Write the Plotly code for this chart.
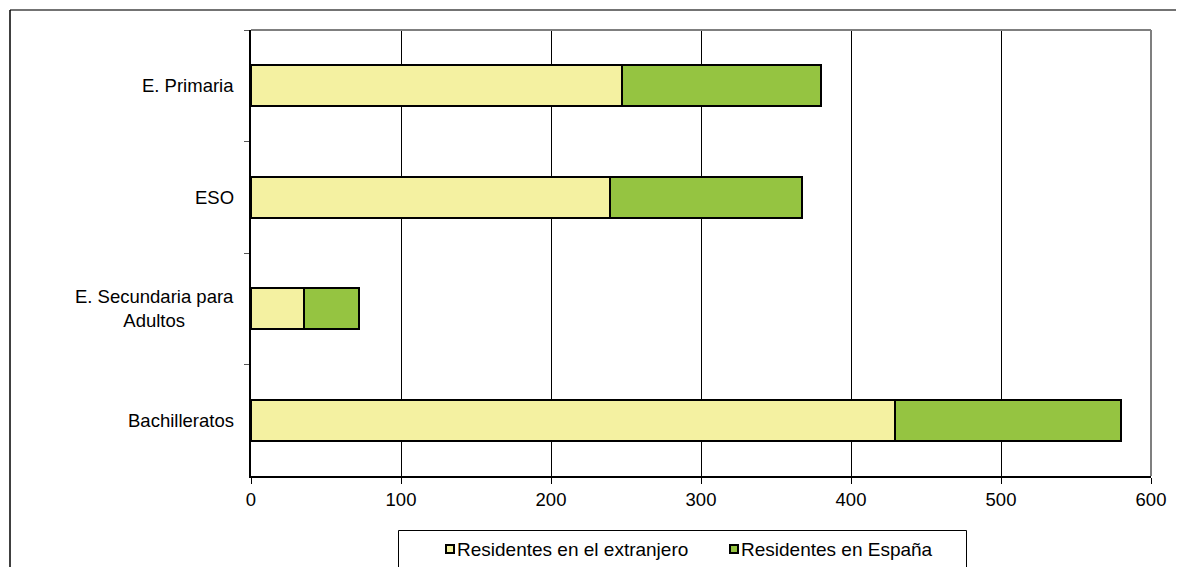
import plotly.graph_objects as go

categories = ["E. Primaria", "ESO", "E. Secundaria para Adultos", "Bachilleratos"]
labels = ["E. Primaria", "ESO", "E. Secundaria para<br>Adultos", "Bachilleratos"]
extranjero = [247, 239, 35, 429]
espana = [133, 128, 37, 151]
series_names = ["Residentes en el extranjero", "Residentes en España"]
series_colors = ["#F4F1A1", "#95C441"]
x_ticks = [0, 100, 200, 300, 400, 500, 600]

FONT = "Liberation Sans, Arial, sans-serif"
OFF = 8  # page body margin
W, H = 1184 - OFF, 567 - OFF
ML, MR, MT, MB = 251 - OFF, 33, 30 - OFF, 91
pw, ph = W - ML - MR, H - MT - MB

fig = go.Figure()
for name, vals, col in zip(series_names, [extranjero, espana], series_colors):
    fig.add_trace(go.Bar(
        y=categories, x=vals, orientation="h", name=name, showlegend=False,
        marker=dict(color=col, line=dict(color="black", width=2)),
    ))

for cat, lab in zip(categories, labels):
    fig.add_annotation(
        x=0, xref="paper", y=cat, yref="y", text=lab, showarrow=False,
        xanchor="right", xshift=-15, align="center",
        font=dict(family=FONT, size=18.5, color="black"),
    )

def px(pxv):
    return (pxv - OFF - ML) / pw

def py(pyv):
    return (H - MB - (pyv - OFF)) / ph

# outer frame
fig.add_shape(type="line", xref="paper", yref="paper",
              x0=px(10), x1=px(1200), y0=py(10), y1=py(10),
              line=dict(color="#444444", width=1.5))
fig.add_shape(type="line", xref="paper", yref="paper",
              x0=px(10), x1=px(10), y0=py(10), y1=py(600),
              line=dict(color="black", width=1.5))
# plot area top/right border (grey)
fig.add_shape(type="line", xref="paper", yref="paper", x0=0, x1=1, y0=1, y1=1,
              line=dict(color="#7f7f7f", width=2))
fig.add_shape(type="line", xref="paper", yref="paper", x0=1, x1=1, y0=0, y1=1,
              line=dict(color="#7f7f7f", width=2))

# custom legend
fig.add_shape(type="rect", xref="paper", yref="paper",
              x0=px(398.5), x1=px(966.5), y0=py(600), y1=py(530.5),
              line=dict(color="black", width=1), fillcolor="white")
legend_x = [446, 730]
for lx, name, col in zip(legend_x, series_names, series_colors):
    fig.add_shape(type="rect", xref="paper", yref="paper",
                  x0=px(lx), x1=px(lx + 8), y0=py(553), y1=py(545),
                  line=dict(color="black", width=2), fillcolor=col)
    fig.add_annotation(x=px(lx + 9), y=py(549), xref="paper", yref="paper",
                       text=name, showarrow=False, xanchor="left", yanchor="middle",
                       font=dict(family=FONT, size=19, color="black"))

fig.update_layout(
    width=W, height=H,
    margin=dict(l=ML, r=MR, t=MT, b=MB),
    barmode="stack", bargap=0.63,
    plot_bgcolor="white", paper_bgcolor="white",
    font=dict(family=FONT, size=18.5, color="black"),
    showlegend=False,
    xaxis=dict(
        range=[0, 600], tickvals=x_ticks, ticks="outside", ticklen=6,
        tickcolor="black", showgrid=True, gridcolor="black", gridwidth=1,
        showline=True, linecolor="black", linewidth=2, zeroline=False,
        tickfont=dict(family=FONT, size=18.5, color="black"),
    ),
    yaxis=dict(
        categoryorder="array", categoryarray=categories, autorange="reversed",
        showticklabels=False, ticks="outside", ticklen=5, tickcolor="#555555",
        tickson="boundaries", showgrid=False, showline=True,
        linecolor="black", linewidth=2, zeroline=False,
    ),
)

fig.write_html("out.html")
